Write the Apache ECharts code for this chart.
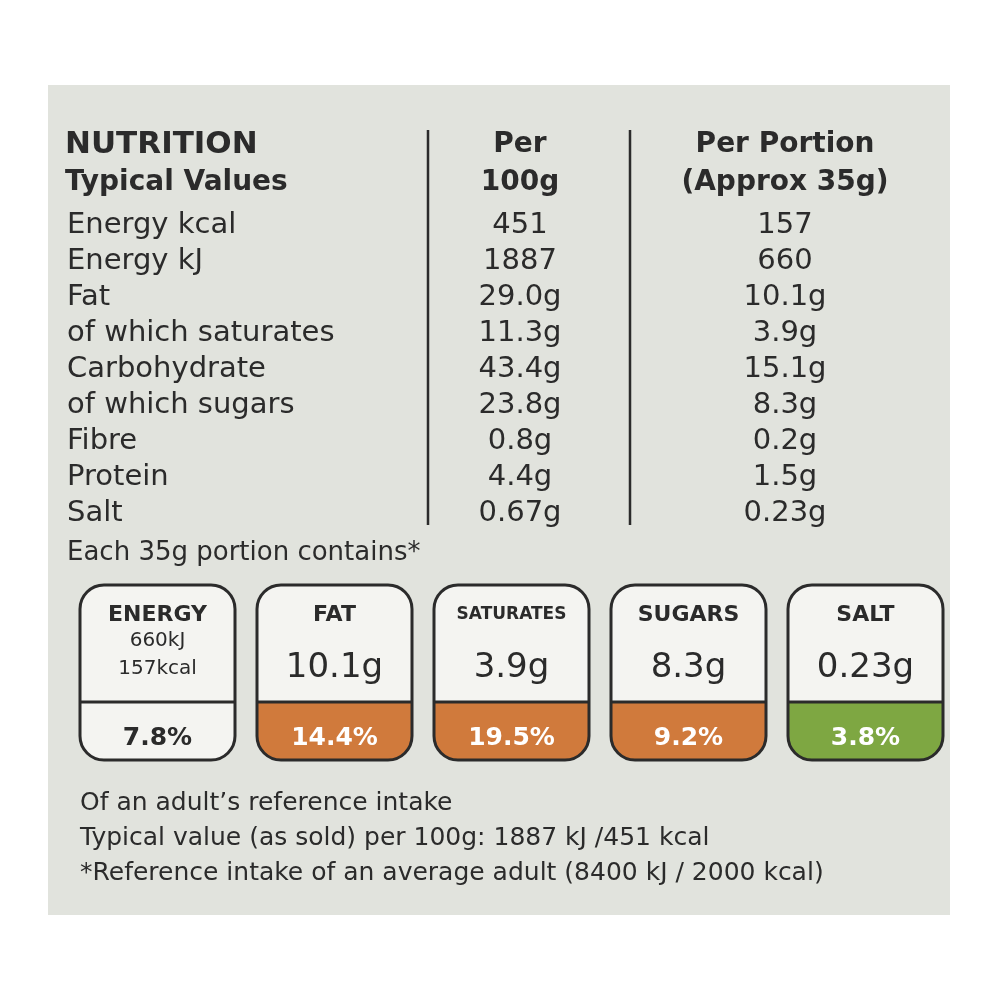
<!DOCTYPE html>
<html><head><meta charset="utf-8">
<script src="https://cdn.jsdelivr.net/npm/echarts@6/dist/echarts.min.js"></script>
<style>html,body{margin:0;padding:0;background:#fff}#main{width:1000px;height:1000px}</style>
</head><body><div id="main"></div>
<script>
var rowLabels = ['Energy kcal','Energy kJ','Fat','of which saturates','Carbohydrate','of which sugars','Fibre','Protein','Salt'];
var per100 = ['451','1887','29.0g','11.3g','43.4g','23.8g','0.8g','4.4g','0.67g'];
var perPortion = ['157','660','10.1g','3.9g','15.1g','8.3g','0.2g','1.5g','0.23g'];
var gdaNames = ['ENERGY','FAT','SATURATES','SUGARS','SALT'];
var gdaAmounts = ['660kJ\n157kcal','10.1g','3.9g','8.3g','0.23g'];
var gdaPercent = ['7.8%','14.4%','19.5%','9.2%','3.8%'];
var gdaLevel = ['none','medium','medium','medium','low'];
var footer = ['Of an adult\u2019s reference intake','Typical value (as sold) per 100g: 1887 kJ /451 kcal','*Reference intake of an average adult (8400 kJ / 2000 kcal)'];

var font = '"DejaVu Sans", sans-serif';
var ink = '#2b2b2b';
var levelColor = {none:'#f4f4f1', medium:'#d07a3c', low:'#7ea742'};

var els = [];
els.push({type:'rect', shape:{x:48,y:85,width:902,height:830}, style:{fill:'#e1e3dd'}});
function txt(x,y,s,size,opt){
  opt = opt||{};
  els.push({type:'text', x:x, y:y, style:{text:s, fill:opt.fill||ink, font:(opt.bold?'bold ':'')+size+'px '+font, textAlign:opt.align||'left', textVerticalAlign:'middle', lineHeight:opt.lh||size}});
}
txt(65,145,'NUTRITION',31,{bold:true});
txt(65,183,'Typical Values',28,{bold:true});
txt(520,145,'Per',28,{bold:true,align:'center'});
txt(520,183,'100g',28,{bold:true,align:'center'});
txt(785,145,'Per Portion',28,{bold:true,align:'center'});
txt(785,183,'(Approx 35g)',28,{bold:true,align:'center'});
rowLabels.forEach(function(l,i){
  var y = 225 + i*36;
  txt(67,y,l,29);
  txt(520,y,per100[i],29,{align:'center'});
  txt(785,y,perPortion[i],29,{align:'center'});
});
[428,630].forEach(function(x){
  els.push({type:'line', shape:{x1:x,y1:130,x2:x,y2:525}, style:{stroke:ink,lineWidth:2.5}});
});
txt(67,553,'Each 35g portion contains*',26);

gdaNames.forEach(function(n,i){
  var x = 80 + i*177, w = 155, y = 585, h = 175, r = 24, split = 702;
  els.push({type:'rect', shape:{x:x,y:y,width:w,height:h,r:r}, style:{fill:'#f4f4f1'}});
  els.push({type:'rect', shape:{x:x,y:split,width:w,height:y+h-split,r:[0,0,r,r]}, style:{fill:levelColor[gdaLevel[i]]}});
  els.push({type:'line', shape:{x1:x,y1:split,x2:x+w,y2:split}, style:{stroke:ink,lineWidth:3}});
  els.push({type:'rect', shape:{x:x,y:y,width:w,height:h,r:r}, style:{fill:null,stroke:ink,lineWidth:3}});
  var cx = x + w/2;
  txt(cx,615,n,n==='SATURATES'?17:22,{bold:true,align:'center'});
  if (i===0) txt(cx,655,gdaAmounts[i],20,{align:'center',lh:28});
  else txt(cx,668,gdaAmounts[i],34,{align:'center'});
  txt(cx,738,gdaPercent[i],25,{bold:true,align:'center',fill:i===0?ink:'#fff'});
});
footer.forEach(function(f,i){ txt(80,803+i*35,f,25); });

var chart = echarts.init(document.getElementById('main'));
chart.setOption({backgroundColor:'#fff', graphic:{elements:els}});
</script></body></html>
